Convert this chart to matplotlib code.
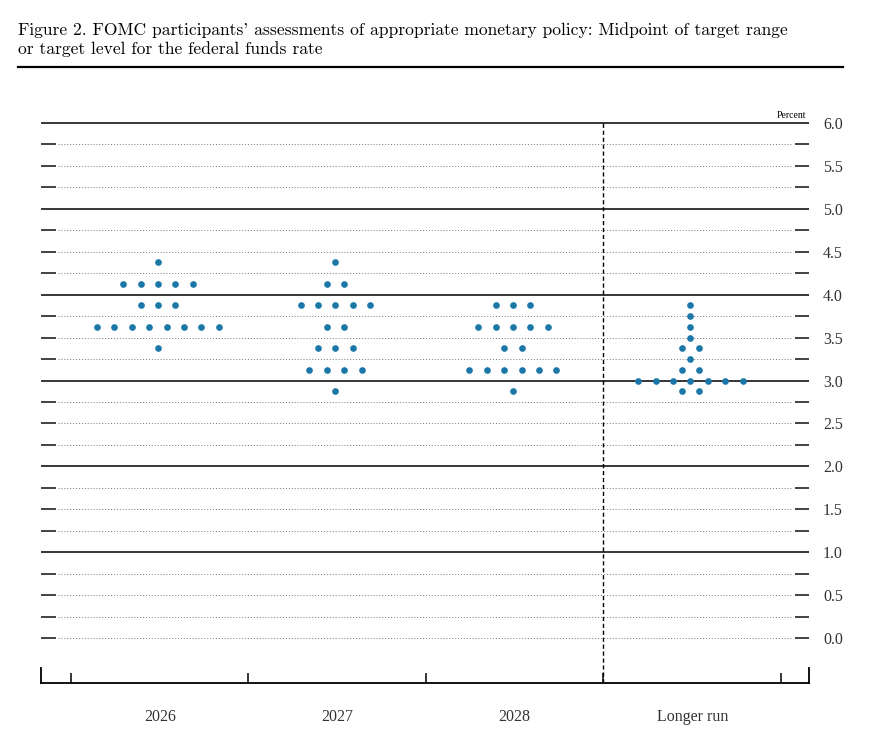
import numpy as np
import matplotlib
matplotlib.use("Agg")
import matplotlib.pyplot as plt
from matplotlib.lines import Line2D

# Column labels and the midpoint projections (rate level -> number of participants)
columns = ["2026", "2027", "2028", "Longer run"]

rates_2026 = [4.375, 4.125, 3.875, 3.625, 3.375]
counts_2026 = [1, 5, 3, 8, 1]

rates_2027 = [4.375, 4.125, 3.875, 3.625, 3.375, 3.125, 2.875]
counts_2027 = [1, 2, 5, 2, 3, 4, 1]

rates_2028 = [3.875, 3.625, 3.375, 3.125, 2.875]
counts_2028 = [3, 5, 2, 6, 1]

rates_longer = [3.875, 3.75, 3.625, 3.5, 3.375, 3.25, 3.125, 3.0, 2.875]
counts_longer = [1, 1, 1, 1, 2, 1, 2, 7, 2]

y_labels = np.arange(0, 6.01, 0.5)
grid_levels = np.arange(0, 6.01, 0.25)

dot_color = "#1a77a8"
dot_step = 0.098
xmin, xmax = -0.169, 4.158
ymin, ymax = -0.524, 6.1

fig = plt.figure(figsize=(8.7, 7.43), dpi=100)
ax = fig.add_axes([41 / 870, 60 / 743, 768 / 870, (683 - 114.4) / 743])
ax.set_xlim(xmin, xmax)
ax.set_ylim(ymin, ymax)

# horizontal rules: solid at whole numbers, dotted in between with short dashes at both ends
for lev in grid_levels:
    if abs(lev - round(lev)) < 1e-9 and lev > 0:
        ax.hlines(lev, xmin, xmax, color="black", lw=1.1, clip_on=False)
    else:
        ax.hlines(lev, -0.073, 4.068, color="#777777", lw=0.7, linestyles=[(0, (1, 2))])
        ax.hlines(lev, xmin, -0.0845, color="#222222", lw=1.2)
        ax.hlines(lev, 4.079, xmax, color="#222222", lw=1.2)

# separator before the longer run column
ax.vlines(3, ymin, 6.0, color="black", lw=1.0, linestyles=[(0, (3, 2))])

# dots
all_rates = [rates_2026, rates_2027, rates_2028, rates_longer]
all_counts = [counts_2026, counts_2027, counts_2028, counts_longer]
for i, (rates, counts) in enumerate(zip(all_rates, all_counts)):
    center = i + 0.5 - 0.01
    for r, n in zip(rates, counts):
        xs = center + (np.arange(n) - (n - 1) / 2) * dot_step
        ax.plot(xs, [r] * n, "o", color=dot_color, ms=4.8, mew=0, zorder=5)

# axes frame
ax.spines["top"].set_visible(False)
ax.spines["bottom"].set_linewidth(1.3)
ax.spines["left"].set_linewidth(1.3)
ax.spines["right"].set_linewidth(1.3)
ax.spines["left"].set_bounds(ymin, ymin + 0.175)
ax.spines["right"].set_bounds(ymin, ymin + 0.175)

ax.set_xticks(np.arange(0, 5))
ax.set_xticklabels([])
ax.set_xticks(np.arange(len(columns)) + 0.5, minor=True)
ax.set_xticklabels(columns, minor=True, fontfamily="Liberation Serif",
                   fontsize=11.5, color="#333333")
ax.tick_params(axis="x", which="major", direction="in", length=7, width=1.1)
ax.tick_params(axis="x", which="minor", length=0, pad=19)

ax.yaxis.tick_right()
ax.set_yticks(y_labels)
ax.set_yticklabels([f"{v:.1f}" for v in y_labels], fontfamily="Liberation Serif",
                   fontsize=11.5, color="#333333")
ax.tick_params(axis="y", length=0, pad=10)

ax.text(4.14, 6.04, "Percent", ha="right", va="bottom", fontsize=7,
        fontfamily="Liberation Serif")

# title and rule under it
fig.text(18 / 870, 1 - 22 / 743,
         "Figure 2. FOMC participants' assessments of appropriate monetary policy: Midpoint of target range\n"
         "or target level for the federal funds rate",
         ha="left", va="top", fontsize=12.6, family=["cmr10", "DejaVu Serif"],
         linespacing=1.25)
fig.add_artist(Line2D([18 / 870, 843 / 870], [1 - 67 / 743, 1 - 67 / 743],
                      color="black", lw=1.6, transform=fig.transFigure))

fig.savefig("out.png", dpi=100)
